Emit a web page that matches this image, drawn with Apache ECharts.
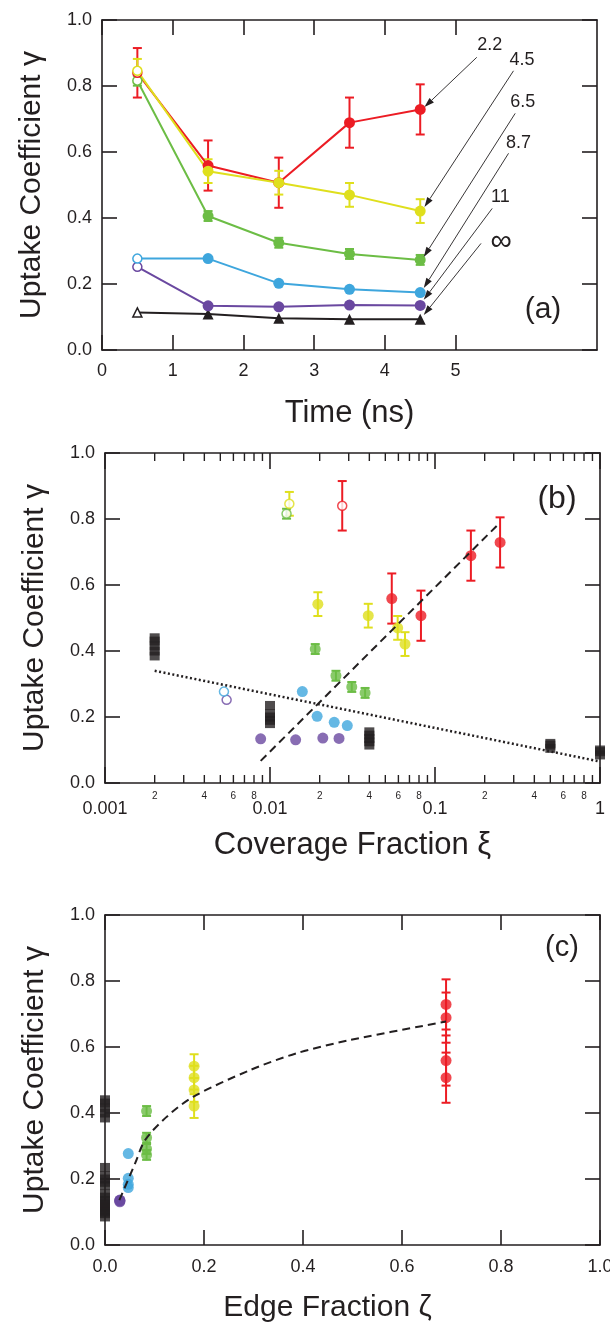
<!DOCTYPE html>
<html><head><meta charset="utf-8">
<script src="https://cdn.jsdelivr.net/npm/echarts@6/dist/echarts.min.js"></script>
<style>html,body{margin:0;padding:0;background:#fff}#chart{width:610px;height:1326px}</style>
</head><body><div id="chart"></div>
<script>
// ---------- DATA ----------
const timeNs = [0.5, 1.5, 2.5, 3.5, 4.5];
const gamma22 = [0.840, 0.559, 0.507, 0.689, 0.729];
const err22   = [0.075, 0.076, 0.076, 0.076, 0.076];
const gamma45 = [0.846, 0.542, 0.507, 0.470, 0.421];
const err45   = [0.036, 0.036, 0.036, 0.036, 0.036];
const gamma65 = [0.816, 0.406, 0.325, 0.291, 0.273];
const err65   = [0.015, 0.015, 0.015, 0.015, 0.015];
const gamma87 = [0.277, 0.277, 0.202, 0.184, 0.174];
const gamma11 = [0.252, 0.134, 0.131, 0.136, 0.135];
const gammaInf = [0.114, 0.109, 0.096, 0.093, 0.093];

// coverage fraction for each time point
const xi22 = [0.0274, 0.0547, 0.0822, 0.165, 0.248];
const xi45 = [0.0131, 0.0195, 0.0394, 0.0594, 0.0658];
const xi65 = [0.0126, 0.0188, 0.0251, 0.0313, 0.0377];
const xi87 = [0.00526, 0.0157, 0.0193, 0.0245, 0.0294];
const xi11 = [0.00546, 0.00878, 0.0143, 0.0209, 0.0262];

// black (other systems) points
const blackXi = [0.002, 0.01, 0.04, 0.5, 1.0];
const blackGamma = [
  [0.385, 0.400, 0.415, 0.430, 0.440],
  [0.180, 0.190, 0.200, 0.210, 0.235],
  [0.115, 0.125, 0.135, 0.145, 0.155],
  [0.105, 0.115, 0.120],
  [0.085, 0.095, 0.100]
];
const blackZeta = 0.0;

// edge fraction per series
const zeta22 = 0.689, zeta45 = 0.18, zeta65 = 0.084, zeta87 = 0.047, zeta11 = 0.03;

// fit lines
const covDashXi = [0.00878, 0.242];
const covDashGamma = [0.067, 0.784];
const covDotXi = [0.002, 1.0];
const covDotGamma = [0.340, 0.065];
const edgeFitZeta = [0.029, 0.061, 0.081, 0.125, 0.178, 0.293, 0.387, 0.495, 0.689];
const edgeFitGamma = [0.136, 0.248, 0.318, 0.389, 0.449, 0.530, 0.581, 0.621, 0.677];

// tick labels
const timeTickLabels = [0, 1, 2, 3, 4, 5];
const decadeLabels = ['0.001', '0.01', '0.1', '1'];
const minorMultipliers = [2, 3, 4, 5, 6, 7, 8, 9];
const minorLabelled = [2, 4, 6, 8];
const decadeStarts = [0.001, 0.01, 0.1];

// annotations in panel (a)
const annLabels = ['2.2', '4.5', '6.5', '8.7', '11', '\u221E'];
const annLabelAt = [[5.485, 0.924], [5.94, 0.879], [5.95, 0.752], [5.89, 0.626], [5.634, 0.465], [5.645, 0.328]];
const annFrom = [[5.30, 0.887], [5.819, 0.846], [5.843, 0.717], [5.749, 0.596], [5.518, 0.429], [5.36, 0.323]];
const annTo = [[4.56, 0.736], [4.56, 0.433], [4.55, 0.282], [4.55, 0.188], [4.55, 0.152], [4.55, 0.106]];

// ---------- STYLE ----------
const FONT = 'Liberation Sans, Arial, Helvetica, sans-serif';
const INK = '#231f20';
const COL = {r:'#ec1c24', y:'#dfdf1d', g:'#6cbd45', b:'#3ea6dd', p:'#6a48a0', k:'#231f20'};

function axisCommon(extra) {
  return Object.assign({
    axisLine: {show: true, onZero: false, lineStyle: {color: INK, width: 1.6}},
    axisTick: {show: true, inside: true, length: 15, lineStyle: {color: INK, width: 1.6}},
    splitLine: {show: false},
    axisLabel: {show: false}
  }, extra);
}
const lab = (extra) => Object.assign({show: true, color: INK, fontSize: 18, fontFamily: FONT}, extra);
const nameStyle = (extra) => Object.assign({color: INK, fontSize: 30, fontFamily: FONT}, extra);

function openItem(v, color) {
  return {value: v, symbolSize: 9, itemStyle: {color: '#fff', borderColor: color, borderWidth: 1.5}};
}
function errorBars(xs, ys, es, color, xi, yi) {
  return {
    type: 'custom', xAxisIndex: xi, yAxisIndex: yi, z: 2, silent: true,
    data: xs.map((x, i) => [x, ys[i] - es[i], ys[i] + es[i]]),
    encode: {x: 0, y: [1, 2]},
    renderItem: (params, api) => {
      const x = api.value(0), lo = api.value(1), hi = api.value(2);
      const a = api.coord([x, hi]), b = api.coord([x, lo]);
      const w = 4.5, st = {stroke: color, lineWidth: 2};
      return {type: 'group', children: [
        {type: 'line', shape: {x1: a[0], y1: a[1], x2: b[0], y2: b[1]}, style: st},
        {type: 'line', shape: {x1: a[0] - w, y1: a[1], x2: a[0] + w, y2: a[1]}, style: st},
        {type: 'line', shape: {x1: b[0] - w, y1: b[1], x2: b[0] + w, y2: b[1]}, style: st}
      ]};
    }
  };
}
function lineA(vals, color, sym) {
  return {
    type: 'line', xAxisIndex: 0, yAxisIndex: 0, z: 3, symbol: sym, symbolSize: 11,
    lineStyle: {color: color, width: 2}, itemStyle: {color: color},
    data: timeNs.map((t, i) => i === 0 ? openItem([t, vals[i]], color) : [t, vals[i]])
  };
}
function scatterB(xs, vals, color) {
  return {
    type: 'scatter', xAxisIndex: 2, yAxisIndex: 2, z: 3, symbol: 'circle', symbolSize: 11, clip: false,
    itemStyle: {color: color},
    data: xs.map((x, i) => i === 0 ? openItem([x, vals[i]], color) : [x, vals[i]])
  };
}
function scatterC(zeta, vals, color) {
  return {
    type: 'scatter', xAxisIndex: 4, yAxisIndex: 4, z: 3, symbol: 'circle', symbolSize: 11, clip: false,
    itemStyle: {color: color},
    data: vals.slice(1).map(v => [zeta, v])
  };
}

const blackB = [];
blackXi.forEach((x, i) => blackGamma[i].forEach(v => blackB.push([x, v])));
const blackC = [];
blackGamma.forEach(g => g.forEach(v => blackC.push([blackZeta, v])));

const minorData = [];
decadeStarts.forEach(d => minorMultipliers.forEach(m => minorData.push([+(m * d).toPrecision(3), m])));

const grids = [
  {left: 102, top: 20, width: 495, height: 330},
  {left: 105, top: 453, width: 495, height: 330},
  {left: 105, top: 915, width: 495, height: 330}
].map(g => Object.assign({containLabel: false, outerBoundsMode: 'none'}, g));

const yBase = {type: 'value', min: 0, max: 1, interval: 0.2};
const yAxes = [];
[0, 1, 2].forEach(gi => {
  yAxes.push(axisCommon(Object.assign({}, yBase, {
    gridIndex: gi, position: 'left',
    axisLabel: lab({margin: 10, formatter: v => v.toFixed(1)}),
    name: 'Uptake Coefficient \u03B3', nameLocation: 'middle', nameGap: 55,
    nameTextStyle: nameStyle()
  })));
  yAxes.push(axisCommon(Object.assign({}, yBase, {gridIndex: gi, position: 'right'})));
});

const xAxes = [
  axisCommon({type: 'value', gridIndex: 0, position: 'bottom', min: 0, max: 7, interval: 1,
    axisTick: {show: true, inside: true, length: 15, lineStyle: {color: INK, width: 1.6}, customValues: timeTickLabels},
    axisLabel: lab({margin: 12, customValues: timeTickLabels, formatter: v => String(v)}),
    name: 'Time (ns)', nameLocation: 'middle', nameGap: 48, nameTextStyle: nameStyle({fontSize: 31})}),
  axisCommon({type: 'value', gridIndex: 0, position: 'top', min: 0, max: 7, interval: 1,
    axisTick: {show: true, inside: true, length: 15, lineStyle: {color: INK, width: 1.6}, customValues: timeTickLabels}}),
  axisCommon({type: 'log', logBase: 10, gridIndex: 1, position: 'bottom', min: 0.001, max: 1,
    axisTick: {show: true, inside: true, length: 16, lineStyle: {color: INK, width: 1.6}},
    axisLabel: lab({margin: 17, formatter: v => decadeLabels[Math.round(Math.log10(v)) + 3]}),
    name: 'Coverage Fraction \u03BE', nameLocation: 'middle', nameGap: 47, nameTextStyle: nameStyle({fontSize: 31})}),
  axisCommon({type: 'log', logBase: 10, gridIndex: 1, position: 'top', min: 0.001, max: 1,
    axisTick: {show: true, inside: true, length: 16, lineStyle: {color: INK, width: 1.6}}}),
  axisCommon({type: 'value', gridIndex: 2, position: 'bottom', min: 0, max: 1, interval: 0.2,
    axisLabel: lab({margin: 13, formatter: v => v.toFixed(1)}),
    name: 'Edge Fraction \u03B6', nameLocation: 'middle', nameGap: 48,
    nameTextStyle: nameStyle({padding: [0, 50, 0, 0]})}),
  axisCommon({type: 'value', gridIndex: 2, position: 'top', min: 0, max: 1, interval: 0.2})
];

const series = [
  // ---- panel (a) ----
  errorBars(timeNs, gamma22, err22, COL.r, 0, 0),
  errorBars(timeNs, gamma45, err45, COL.y, 0, 0),
  errorBars(timeNs, gamma65, err65, COL.g, 0, 0),
  lineA(gammaInf, COL.k, 'triangle'),
  lineA(gamma11, COL.p, 'circle'),
  lineA(gamma87, COL.b, 'circle'),
  lineA(gamma65, COL.g, 'circle'),
  lineA(gamma22, COL.r, 'circle'),
  lineA(gamma45, COL.y, 'circle'),
  {
    type: 'custom', xAxisIndex: 0, yAxisIndex: 0, z: 5, silent: true,
    data: annTo.map(p => [p[0], p[1]]),
    encode: {x: 0, y: 1},
    renderItem: (params, api) => {
      const i = params.dataIndex;
      const t = api.coord(annTo[i]), f = api.coord(annFrom[i]), lp = api.coord(annLabelAt[i]);
      const dx = t[0] - f[0], dy = t[1] - f[1], L = Math.hypot(dx, dy);
      const ux = dx / L, uy = dy / L, nx = -uy, ny = ux, AL = 10, AW = 3.2;
      const bx = t[0] - ux * AL, by = t[1] - uy * AL;
      const isInf = annLabels[i] === '\u221E';
      return {type: 'group', children: [
        {type: 'line', shape: {x1: f[0], y1: f[1], x2: bx, y2: by}, style: {stroke: INK, lineWidth: 0.9}},
        {type: 'polygon', shape: {points: [[t[0], t[1]], [bx + nx * AW, by + ny * AW], [bx - nx * AW, by - ny * AW]]}, style: {fill: INK}},
        {type: 'text', x: lp[0], y: lp[1], style: {text: annLabels[i], fill: INK, fontSize: isInf ? 30 : 18, fontFamily: FONT, align: 'center', verticalAlign: 'middle'}}
      ]};
    }
  },
  // ---- panel (b) ----
  {
    type: 'custom', xAxisIndex: 2, yAxisIndex: 2, z: 4, silent: true, clip: false,
    data: minorData, encode: {x: 0},
    renderItem: (params, api) => {
      const x = api.value(0), m = api.value(1);
      const b = api.coord([x, 0]), t = api.coord([x, 1]);
      const st = {stroke: INK, lineWidth: 1.4};
      const ch = [
        {type: 'line', shape: {x1: b[0], y1: b[1], x2: b[0], y2: b[1] - 8}, style: st},
        {type: 'line', shape: {x1: t[0], y1: t[1], x2: t[0], y2: t[1] + 8}, style: st}
      ];
      if (minorLabelled.indexOf(m) >= 0) {
        ch.push({type: 'text', x: b[0], y: b[1] + 13, style: {text: String(m), fill: INK, fontSize: 10, fontFamily: FONT, align: 'center', verticalAlign: 'middle'}});
      }
      return {type: 'group', children: ch};
    }
  },
  {type: 'scatter', xAxisIndex: 2, yAxisIndex: 2, z: 3, symbol: 'rect', symbolSize: [10, 9], clip: false,
    itemStyle: {color: COL.k}, data: blackB},
  {type: 'line', xAxisIndex: 2, yAxisIndex: 2, z: 4, symbol: 'none', silent: true,
    lineStyle: {color: INK, width: 2.5, type: [2, 2.5]},
    data: covDotXi.map((x, i) => [x, covDotGamma[i]])},
  {type: 'line', xAxisIndex: 2, yAxisIndex: 2, z: 4, symbol: 'none', silent: true,
    lineStyle: {color: INK, width: 2, type: [8, 5]},
    data: covDashXi.map((x, i) => [x, covDashGamma[i]])},
  errorBars(xi22, gamma22, err22, COL.r, 2, 2),
  errorBars(xi45, gamma45, err45, COL.y, 2, 2),
  errorBars(xi65, gamma65, err65, COL.g, 2, 2),
  scatterB(xi11, gamma11, COL.p),
  scatterB(xi87, gamma87, COL.b),
  scatterB(xi65, gamma65, COL.g),
  scatterB(xi22, gamma22, COL.r),
  scatterB(xi45, gamma45, COL.y),
  // ---- panel (c) ----
  {type: 'scatter', xAxisIndex: 4, yAxisIndex: 4, z: 3, symbol: 'rect', symbolSize: [10, 9], clip: false,
    itemStyle: {color: COL.k}, data: blackC},
  errorBars(Array(4).fill(zeta22), gamma22.slice(1), err22.slice(1), COL.r, 4, 4),
  errorBars(Array(4).fill(zeta45), gamma45.slice(1), err45.slice(1), COL.y, 4, 4),
  errorBars(Array(4).fill(zeta65), gamma65.slice(1), err65.slice(1), COL.g, 4, 4),
  scatterC(zeta11, gamma11, COL.p),
  scatterC(zeta87, gamma87, COL.b),
  scatterC(zeta65, gamma65, COL.g),
  scatterC(zeta45, gamma45, COL.y),
  scatterC(zeta22, gamma22, COL.r),
  {type: 'line', xAxisIndex: 4, yAxisIndex: 4, z: 4, symbol: 'none', silent: true, smooth: 0.3,
    lineStyle: {color: INK, width: 2, type: [8, 5]},
    data: edgeFitZeta.map((x, i) => [x, edgeFitGamma[i]])}
];

const chart = echarts.init(document.getElementById('chart'), null, {renderer: 'canvas'});
chart.setOption({
  animation: false,
  backgroundColor: '#fff',
  grid: grids,
  xAxis: xAxes,
  yAxis: yAxes,
  series: series,
  graphic: [
    {type: 'text', x: 543, y: 310, style: {text: '(a)', fill: INK, fontSize: 30, fontFamily: FONT, align: 'center', verticalAlign: 'middle'}},
    {type: 'text', x: 557, y: 499, style: {text: '(b)', fill: INK, fontSize: 32, fontFamily: FONT, align: 'center', verticalAlign: 'middle'}},
    {type: 'text', x: 562, y: 948, style: {text: '(c)', fill: INK, fontSize: 29, fontFamily: FONT, align: 'center', verticalAlign: 'middle'}}
  ]
});
</script>
</body></html>
